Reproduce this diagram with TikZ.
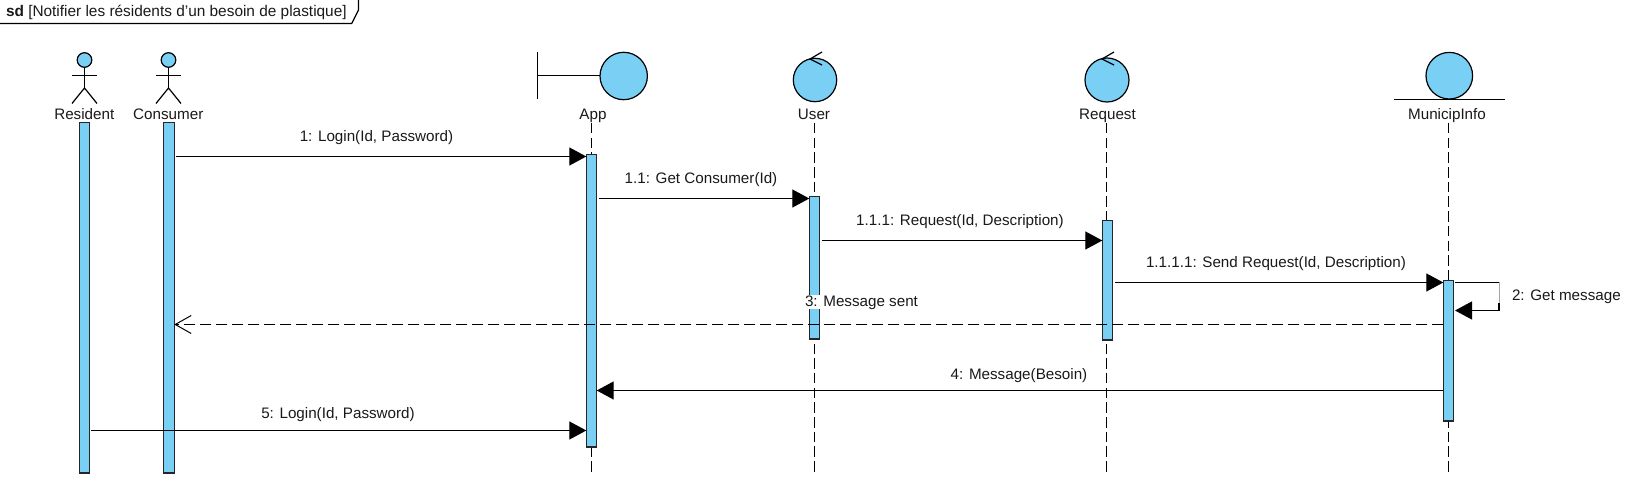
\documentclass[tikz,border=0pt]{standalone}
\usepackage{fontspec}
\setmainfont{Liberation Sans}
\usetikzlibrary{arrows.meta}
\definecolor{fillblue}{HTML}{7ACFF5}
\tikzset{
  x=1pt,y=-1pt,
  every node/.style={inner sep=0pt,outer sep=0pt},
  lbl/.style={font=\fontsize{15.2}{17}\selectfont,anchor=base,text=black!90},
  shapeline/.style={draw=black,line width=1.2pt,fill=fillblue},
  glyph/.style={draw=black,line width=1.2pt},
  bar/.style={draw=black!85,line width=1.3pt,fill=fillblue,rectangle,minimum width=10.4pt,anchor=north},
  lifeline/.style={draw=black,line width=1.2pt,dash pattern=on 10.5pt off 4.2pt},
  msg/.style={draw=black,line width=1.2pt,-{Triangle[length=17pt,width=18pt]}},
  reply/.style={draw=black,line width=1.2pt,dash pattern=on 11pt off 5pt,-{Straight Barb[length=16pt,width=18pt,line width=1pt]}},
}
\begin{document}
\begin{tikzpicture}
\useasboundingbox (0,0) rectangle (1635,494);
% frame
\draw[glyph] (0,23.5) -- (351.7,23.5) -- (358.5,10) -- (358.5,0);
\node[lbl,anchor=base west,font=\fontsize{15.4}{17}\selectfont] (title) at (6,16.7) {\textbf{sd} [Notifier les résidents d'un besoin de plastique]};

% lifeline ends
\coordinate (tApp) at (591.5,123);   \coordinate (eApp) at (591.5,473);
\coordinate (tUser) at (814.5,123); \coordinate (eUser) at (814.5,473);
\coordinate (tReq) at (1106.5,123); \coordinate (eReq) at (1106.5,473);
\coordinate (tMun) at (1448.5,123); \coordinate (eMun) at (1448.5,473);
\draw[lifeline] (tApp) -- (eApp);
\draw[lifeline] (tUser) -- (eUser);
\draw[lifeline] (tReq) -- (eReq);
\draw[lifeline] (tMun) -- (eMun);

% actors
\foreach \n/\cx in {Res/84.5,Con/168.5}{
  \draw[shapeline] (\cx,60) circle (7.3);
  \draw[glyph] (\cx,67.3) -- (\cx,88);
  \draw[glyph] (\cx-12.5,75.5) -- (\cx+12.5,75.5);
  \draw[glyph] (\cx-12.5,103.5) -- (\cx,88) -- (\cx+12.5,103.5);
}
\node[lbl] (lRes) at (84.3,119.8) {Resident};
\node[lbl] (lCon) at (168.3,119.8) {Consumer};

% boundary App
\draw[glyph] (537.5,52) -- (537.5,99);
\draw[glyph] (537.5,75.5) -- (600,75.5);
\draw[shapeline] (623.7,76) circle (23.7);
\node[lbl] (lApp) at (593,119.8) {App};

% control User
\draw[shapeline] (815,80) circle (21.7);
\draw[glyph] (822,52) -- (810,59) -- (822,65);
\node[lbl] (lUser) at (814,119.8) {User};

% control Request
\draw[shapeline] (1107,80) circle (22);
\draw[glyph] (1114,52) -- (1102,59) -- (1114,65);
\node[lbl] (lReq) at (1107.5,119.8) {Request};

% entity MunicipInfo
\draw[shapeline] (1449.3,75.7) circle (23.3);
\draw[glyph] (1394,99.5) -- (1505,99.5);
\node[lbl] (lMun) at (1447,119.8) {MunicipInfo};

% activation bars
\node[bar,minimum height=350.5pt] (aRes) at (84.5,122.5) {};
\node[bar,minimum height=350.5pt] (aCon) at (169,122.5) {};
\node[bar,minimum height=292.5pt] (aApp) at (591.5,154.5) {};
\node[bar,minimum height=142.5pt] (aUser) at (814.5,196.5) {};
\node[bar,minimum height=119.5pt] (aReq) at (1107.5,220.5) {};
\node[bar,minimum height=140.5pt] (aMun) at (1448.5,280.5) {};

% messages
\coordinate (s1) at (176,156.5);
\coordinate (s5) at (91,430.5);
\coordinate (s11) at (599,198.5);
\coordinate (s111) at (822,240.5);
\coordinate (s1111) at (1115,282.5);
\draw[msg] (s1) -- (aApp.west |- s1);
\draw[msg] (s11) -- (aUser.west |- s11);
\draw[msg] (s111) -- (aReq.west |- s111);
\draw[msg] (s1111) -- (aMun.west |- s1111);
\coordinate (r1) at (1499,282.5);
\coordinate (r2) at (1499,303);
\coordinate (r3) at (1499,310.5);
\coordinate (r4) at (1455,310.5);
\coordinate (s2) at (1455,282.5);
\draw[draw=black,line width=1.2pt] (s2) -- (r1);
\draw[draw=black!35,line width=.8pt] (r1) -- (r2);
\draw[msg] (r2) -- (r3) -- (r4);
\draw[reply] (aMun.west |- 0,324.5) -- (aCon.east |- 0,324.5);
\draw[msg] (aMun.west |- 0,390.5) -- (aApp.east |- 0,390.5);
\draw[msg] (s5) -- (aApp.west |- s5);

% message labels
\node[lbl] (m1) at (376.5,142) {1: Login(Id, Password)};
\node[lbl] (m11) at (701,183.5) {1.1: Get Consumer(Id)};
\node[lbl] (m111) at (960,225.8) {1.1.1: Request(Id, Description)};
\node[lbl] (m1111) at (1276,268) {1.1.1.1: Send Request(Id, Description)};
\node[lbl,anchor=base west] (m2) at (1512,300) {2: Get message};
\node[lbl,fill=white,text depth=2pt,text height=12pt] (m3) at (861.5,306.8) {3: Message sent};
\node[lbl] (m4) at (1019,379.5) {4: Message(Besoin)};
\node[lbl] (m5) at (338,418) {5: Login(Id, Password)};
\end{tikzpicture}
\end{document}
